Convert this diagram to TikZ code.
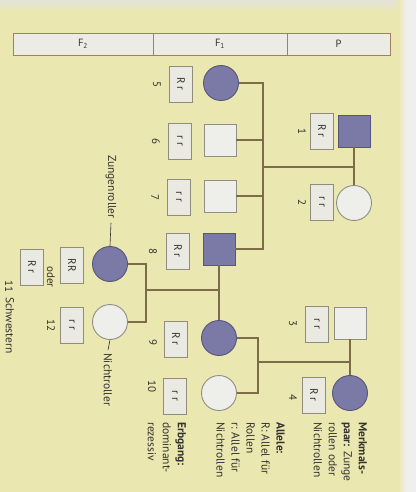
\documentclass[tikz,border=0pt]{standalone}
\usepackage{fontspec}
\setmainfont{PT Sans}
\setsansfont{PT Sans}
\definecolor{bgyellow}{HTML}{EAE7B0}
\definecolor{paper}{HTML}{EFEFEB}
\definecolor{topgray}{HTML}{E3E3DA}
\definecolor{linecol}{HTML}{7C6C48}
\definecolor{affected}{HTML}{7B79A6}
\definecolor{affectededge}{HTML}{56557A}
\definecolor{healthy}{HTML}{EEEEEA}
\definecolor{healthyedge}{HTML}{8E8E84}
\definecolor{boxfill}{HTML}{EAEAE2}
\definecolor{boxedge}{HTML}{8F8C7C}
\definecolor{hdrfill}{HTML}{ECEBE4}
\definecolor{hdredge}{HTML}{A0805E}
\definecolor{ink}{HTML}{33322F}
\begin{document}
\begin{tikzpicture}[x=1pt,y=-1pt,
  sym/.style={draw, line width=0.9pt, inner sep=0pt},
  msq/.style={sym, rectangle, minimum size=32pt},
  fcirc/.style={sym, circle, minimum size=35pt},
  aff/.style={fill=affected, draw=affectededge},
  hea/.style={fill=healthy, draw=healthyedge},
  geno/.style={rectangle, draw=boxedge, fill=boxfill, line width=0.8pt,
    minimum width=36pt, minimum height=23pt, rotate=-90, inner sep=0pt,
    font=\fontsize{11}{12}\selectfont, text=ink},
  num/.style={rotate=-90, inner sep=0pt, font=\fontsize{11}{12}\selectfont, text=ink},
  conn/.style={draw=linecol, line width=1.3pt},
  note/.style={rotate=-90, inner sep=0pt, font=\fontsize{11.5}{13}\selectfont, text=ink},
  desc/.style={rotate=-90, anchor=north west, align=left, inner sep=0pt,
    font=\fontsize{11.5}{15}\selectfont, text=ink},
  hdr/.style={rectangle, draw=hdredge, fill=hdrfill, line width=0.9pt,
    minimum height=22pt, inner sep=0pt, font=\fontsize{10.5}{12}\selectfont, text=ink}
]
% page background
\useasboundingbox (0,0) rectangle (416,492);
\fill[bgyellow] (0,0) rectangle (416,492);
\shade[top color=topgray, bottom color=bgyellow] (0,0) rectangle (416,12);
\shade[left color=bgyellow, right color=paper] (398,0) rectangle (406,492);
\fill[paper] (406,0) rectangle (416,492);

% generation header
\node[hdr, minimum width=140pt] (hF2) at (83,44) {F\textsubscript{2}};
\node[hdr, minimum width=134pt] (hF1) at (220,44) {F\textsubscript{1}};
\node[hdr, minimum width=103pt] (hP)  at (338.5,44) {P};

% junction points
\coordinate (m12) at (354,167);
\coordinate (j12) at (263,167);
\coordinate (m34) at (350,362);
\coordinate (j34) at (258,362);
\coordinate (m89) at (219,290);
\coordinate (j89) at (146,290);

% P generation
\node[msq, aff]   (p1) at (354,131) {};
\node[fcirc, hea] (p2) at (354,203) {};
\node[msq, hea]   (p3) at (350,323) {};
\node[fcirc, aff] (p4) at (350,393) {};

% F1 generation
\node[fcirc, aff] (c5)  at (221,83) {};
\node[msq, hea]   (c6)  at (220,140) {};
\node[msq, hea]   (c7)  at (220,196) {};
\node[msq, aff]   (c8)  at (219,249) {};
\node[fcirc, aff] (c9)  at (219,338) {};
\node[fcirc, hea] (c10) at (219,393) {};

% F2 generation
\node[fcirc, aff] (c11) at (110,264) {};
\node[fcirc, hea] (c12) at (110,322) {};

% matings and sibships
\draw[conn] (p1) -- (p2);
\draw[conn] (m12) -- (j12);
\draw[conn] (c5) -- (c5 -| j12) -- (c8 -| j12) -- (c8);
\draw[conn] (c6) -- (c6 -| j12);
\draw[conn] (c7) -- (c7 -| j12);

\draw[conn] (p3) -- (p4);
\draw[conn] (m34) -- (j34);
\draw[conn] (c9) -- (c9 -| j34) -- (c10 -| j34) -- (c10);

\draw[conn] (c8) -- (c9);
\draw[conn] (m89) -- (j89);
\draw[conn] (c11) -- (c11 -| j89) -- (c12 -| j89) -- (c12);

% genotypes
\node[geno] (g1)  at (322,131) {R r};
\node[geno] (g2)  at (322,202) {r r};
\node[geno] (g3)  at (317,324) {r r};
\node[geno] (g4)  at (314,395) {R r};
\node[geno] (g5)  at (181,84)  {R r};
\node[geno] (g6)  at (180,141) {r r};
\node[geno] (g7)  at (179,197) {r r};
\node[geno] (g8)  at (178,251) {R r};
\node[geno] (g9)  at (176,339) {R r};
\node[geno] (g10) at (175,396) {r r};
\node[geno] (g11a) at (72,265) {RR};
\node[geno] (g11b) at (32,267) {R r};
\node[geno] (g12) at (72,325) {r r};
\node[num] (oder) at (51,277) {oder};

% individual numbers
\node[num] (n1)  at (302,131) {1};
\node[num] (n2)  at (302,202) {2};
\node[num] (n3)  at (293,323) {3};
\node[num] (n4)  at (293,397) {4};
\node[num] (n5)  at (157,84)  {5};
\node[num] (n6)  at (156,141) {6};
\node[num] (n7)  at (155,197) {7};
\node[num] (n8)  at (153,251) {8};
\node[num] (n9)  at (153,342) {9};
\node[num] (n10) at (152,386) {10};
\node[num] (n11) at (9,286)   {11};
\node[num] (n12) at (51,325)  {12};

% phenotype notes
\node[note, anchor=west] (zr) at (111,155) {Zungenroller};
\draw[draw=ink, line width=0.6pt] (zr.east) ++(0,4) -- (c11.north);
\node[note, anchor=west] (nr) at (108,353) {Nichtroller};
\draw[draw=ink, line width=0.6pt] (c12.south) -- ([yshift=3pt]nr.west);
\node[note, anchor=west] (sw) at (10,297) {Schwestern};

% legend
\node[desc] (lgA) at (367,422) {\textbf{Merkmals-}\\\textbf{paar:} Zunge\\rollen oder\\Nichtrollen};
\node[desc] (lgB) at (285,422) {\textbf{Allele:}\\R: Allel für\\Rollen\\r: Allel für\\Nichtrollen};
\node[desc] (lgC) at (186,422) {\textbf{Erbgang:}\\dominant-\\rezessiv};
\end{tikzpicture}
\end{document}
